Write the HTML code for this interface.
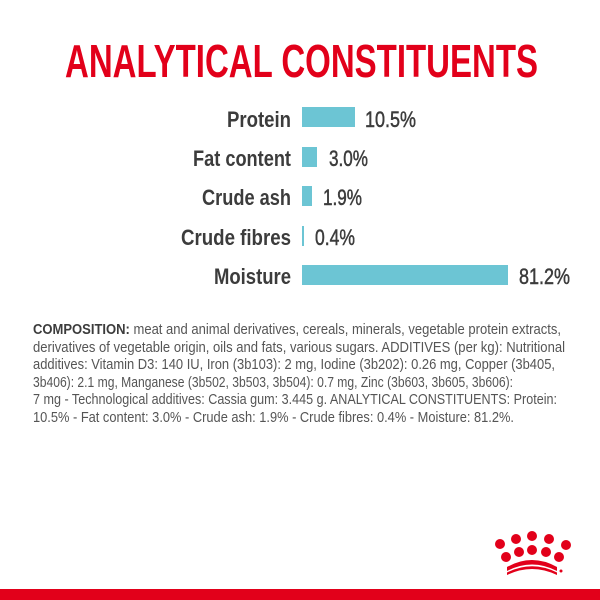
<!DOCTYPE html>
<html><head><meta charset="utf-8"><style>
html,body{margin:0;padding:0;background:#fff;}
svg{display:block;}
text{font-family:"Liberation Sans Narrow","Liberation Sans",sans-serif;}
</style></head><body>
<svg width="600" height="600" viewBox="0 0 600 600">
<rect width="600" height="600" fill="#fff"/>
<text x="65" y="77" font-size="46" font-weight="bold" fill="#e2001a" textLength="473" lengthAdjust="spacingAndGlyphs">ANALYTICAL CONSTITUENTS</text>
<g font-size="22" font-weight="bold" fill="#3c3c3c">
<text x="227" y="127" textLength="64" lengthAdjust="spacingAndGlyphs">Protein</text>
<text x="193" y="166" textLength="98" lengthAdjust="spacingAndGlyphs">Fat content</text>
<text x="202" y="205" textLength="89" lengthAdjust="spacingAndGlyphs">Crude ash</text>
<text x="181" y="245" textLength="110" lengthAdjust="spacingAndGlyphs">Crude fibres</text>
<text x="214" y="284" textLength="77" lengthAdjust="spacingAndGlyphs">Moisture</text>
</g>
<g fill="#6cc5d4">
<rect x="302" y="107" width="53" height="20"/>
<rect x="302" y="147" width="15" height="20"/>
<rect x="302" y="186" width="10" height="20"/>
<rect x="302" y="226" width="2" height="20"/>
<rect x="302" y="265" width="206" height="20"/>
</g>
<g font-size="22" font-weight="normal" fill="#3c3c3c" stroke="#3c3c3c" stroke-width="0.5">
<text x="365" y="127" textLength="51" lengthAdjust="spacingAndGlyphs">10.5%</text>
<text x="329" y="166" textLength="39" lengthAdjust="spacingAndGlyphs">3.0%</text>
<text x="323" y="205" textLength="39" lengthAdjust="spacingAndGlyphs">1.9%</text>
<text x="315" y="245" textLength="40" lengthAdjust="spacingAndGlyphs">0.4%</text>
<text x="519" y="284" textLength="51" lengthAdjust="spacingAndGlyphs">81.2%</text>
</g>
<g font-size="14.5" fill="#555">
<text x="33" y="334" textLength="528" lengthAdjust="spacingAndGlyphs"><tspan font-weight="bold" fill="#3c3c3c">COMPOSITION:</tspan> meat and animal derivatives, cereals, minerals, vegetable protein extracts,</text>
<text x="33" y="352" textLength="532" lengthAdjust="spacingAndGlyphs">derivatives of vegetable origin, oils and fats, various sugars. ADDITIVES (per kg): Nutritional</text>
<text x="33" y="369" textLength="522" lengthAdjust="spacingAndGlyphs">additives: Vitamin D3: 140 IU, Iron (3b103): 2 mg, Iodine (3b202): 0.26 mg, Copper (3b405,</text>
<text x="33" y="387" textLength="480" lengthAdjust="spacingAndGlyphs">3b406): 2.1 mg, Manganese (3b502, 3b503, 3b504): 0.7 mg, Zinc (3b603, 3b605, 3b606):</text>
<text x="33" y="404" textLength="524" lengthAdjust="spacingAndGlyphs">7 mg - Technological additives: Cassia gum: 3.445 g. ANALYTICAL CONSTITUENTS: Protein:</text>
<text x="33" y="422" textLength="481" lengthAdjust="spacingAndGlyphs">10.5% - Fat content: 3.0% - Crude ash: 1.9% - Crude fibres: 0.4% - Moisture: 81.2%.</text>
</g>
<g fill="#e2001a">
<circle cx="500" cy="544" r="5"/><circle cx="516" cy="539" r="5"/><circle cx="532" cy="536" r="5"/><circle cx="549" cy="539" r="5"/><circle cx="566" cy="545" r="5"/>
<circle cx="506" cy="557" r="5"/><circle cx="519" cy="552" r="5"/><circle cx="532" cy="550" r="5"/><circle cx="546" cy="552" r="5"/><circle cx="559" cy="557" r="5"/>
<path d="M507 567 Q532 553 557 567 L557 571 Q532 558 507 571Z"/>
<path d="M507 572.5 Q532 560 557 572.5 L557 575 Q532 563 507 575Z"/>
<circle cx="561" cy="571" r="1.5"/>
<rect x="0" y="589" width="600" height="11"/>
</g>
</svg>
</body></html>
